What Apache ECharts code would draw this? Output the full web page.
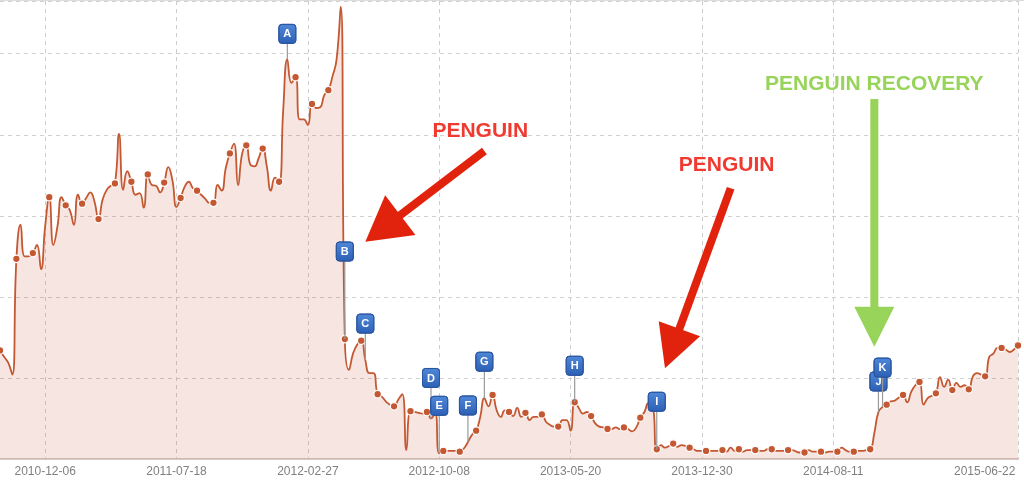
<!DOCTYPE html>
<html>
<head>
<meta charset="utf-8">
<script src="https://cdn.jsdelivr.net/npm/echarts@6/dist/echarts.min.js"></script>
<style>
html,body{margin:0;padding:0;background:#fff;}
#c{width:1024px;height:481px;}
</style>
</head>
<body>
<div id="c"></div>
<script>
// ---------- data ----------
const startDate = '2010-09-20';   // first weekly point
const weekCount = 249;

// weekly visibility values (one per week)
const values = [
  13.4, 12.6, 11.9, 10.4, 24.7, 28.9, 25.0, 25.0, 25.4, 26.4,
  23.4, 28.7, 32.3, 26.4, 28.7, 32.3, 31.3, 30.7, 28.9, 32.6,
  31.5, 32.2, 32.9, 31.8, 29.6, 32.0, 33.2, 33.7, 34.0, 40.1,
  33.2, 35.5, 34.2, 32.6, 32.8, 31.0, 35.1, 33.8, 33.7, 32.9,
  34.1, 36.0, 34.4, 31.1, 32.2, 33.6, 34.2, 33.4, 33.1, 32.6,
  32.1, 31.6, 31.6, 33.8, 33.1, 35.9, 37.7, 38.9, 33.8, 37.7,
  38.7, 36.3, 36.1, 37.1, 38.3, 36.1, 33.1, 34.7, 34.2, 43.1,
  49.3, 46.4, 47.1, 41.9, 41.9, 41.2, 43.8, 43.3, 43.4, 44.9,
  45.5, 47.2, 49.3, 55.8, 14.8, 11.0, 13.0, 14.1, 14.6, 12.2,
  10.6, 10.6, 8.0, 7.7, 7.1, 6.7, 6.5, 7.3, 8.0, 1.1,
  5.9, 5.8, 5.7, 5.6, 5.8, 5.0, 5.7, 0.7, 1.0, 1.0,
  1.0, 1.0, 0.9, 1.3, 2.1, 3.0, 3.5, 5.2, 7.5, 6.5,
  7.9, 6.0, 5.2, 6.0, 5.8, 5.3, 6.3, 5.2, 5.7, 4.8,
  5.2, 5.2, 5.5, 4.6, 4.2, 4.0, 4.0, 4.8, 4.8, 3.5,
  7.0, 6.3, 5.6, 5.8, 5.3, 4.4, 4.0, 3.9, 3.7, 3.7,
  3.9, 3.7, 3.9, 3.7, 3.4, 3.9, 5.1, 5.8, 6.9, 6.7,
  1.2, 1.7, 1.4, 1.6, 1.9, 1.5, 1.7, 1.6, 1.4, 1.2,
  1.0, 1.0, 1.0, 1.0, 1.0, 1.0, 1.1, 0.9, 1.4, 1.0,
  1.2, 0.9, 1.1, 1.1, 1.1, 1.0, 1.0, 1.2, 1.2, 1.0,
  1.0, 1.0, 1.1, 1.1, 0.9, 0.8, 0.8, 1.1, 0.9, 0.9,
  0.9, 0.8, 0.9, 0.9, 0.9, 1.4, 1.1, 0.9, 0.9, 1.0,
  1.0, 1.1, 1.2, 3.2, 5.8, 6.4, 6.7, 7.1, 7.2, 7.6,
  7.9, 7.0, 8.3, 9.1, 9.5, 6.7, 7.5, 7.8, 8.1, 10.1,
  8.9, 9.8, 8.5, 9.4, 8.9, 9.1, 8.6, 10.2, 10.6, 10.4,
  10.2, 12.6, 13.0, 13.7, 13.7, 13.5, 13.2, 13.5, 14.0
];

// x-axis tick labels (weeks shown on the axis)
const tickLabels = ['2010-12-06','2011-07-18','2012-02-27','2012-10-08','2013-05-20','2013-12-30','2014-08-11','2015-06-22'];

// event flags
const flagLetters = ['A','B','C','D','E','F','G','H','I','J','K'];
const flagDates   = ['2012-01-23','2012-04-30','2012-06-04','2012-09-24','2012-10-08','2012-11-26','2012-12-24','2013-05-27','2013-10-14','2014-10-27','2014-11-03'];

// annotation texts
const annotationTexts = ['PENGUIN', 'PENGUIN', 'PENGUIN RECOVERY'];

// ---------- layout / style (not data) ----------
const flagLift = [16, 78, 27, 31, 38, 27, 27, 27, 38, 21, 30];   // stem length in px
// annotation anchors in data space [week index, value]
const annotationAnchors = [[117.0, 40.4], [176.5, 36.3], [213.4, 46.2]];
const annotationColors = ['#f03a30', '#f03a30', '#98d35a'];
const arrowDefs = [
  {from: [117.7, 38.0], to: [89.0, 26.8], color: '#e1220d', head: 44, half: 25},
  {from: [177.6, 33.4], to: [161.6, 11.2], color: '#e1220d', head: 42, half: 22},
  {from: [213.4, 44.4], to: [213.4, 13.85], color: '#98d35a', head: 40, half: 20}
];

// ---------- build categories ----------
const categories = [];
(function(){
  const p = startDate.split('-').map(Number);
  const d0 = Date.UTC(p[0], p[1]-1, p[2]);
  for (let i = 0; i < weekCount; i++) {
    categories.push(new Date(d0 + i*7*86400000).toISOString().slice(0,10));
  }
})();
const labelIdx = tickLabels.map(t => categories.indexOf(t));
const isLabel = i => labelIdx.indexOf(i) >= 0;
const flagWeeks = flagDates.map(d => categories.indexOf(d));

const chart = echarts.init(document.getElementById('c'), null, {renderer: 'canvas'});
const FONT = "'Liberation Sans', Arial, Helvetica, sans-serif";

chart.setOption({
  animation: false,
  grid: {left: -0.5, right: 6, top: 1, bottom: 22, containLabel: false},
  xAxis: [{
    type: 'category',
    data: categories,
    boundaryGap: false,
    axisLine: {show: true, lineStyle: {color: '#d6cac6', width: 2}},
    axisTick: {show: false},
    axisLabel: {
      interval: (i) => isLabel(i),
      color: '#808080', fontSize: 12, fontFamily: FONT, margin: 7,
      formatter: (v, i) => (i === weekCount - 1 ? '{r|' + v + '}' : v),
      rich: {r: {width: 128, align: 'left', color: '#808080', fontSize: 12, fontFamily: FONT}}
    },
    splitLine: {show: true, interval: (i) => isLabel(i), lineStyle: {color: '#cdcdcd', type: [4, 4], width: 1}}
  }],
  yAxis: {
    type: 'value', min: 0, max: 56.5, interval: 10,
    axisLabel: {show: false}, axisLine: {show: false}, axisTick: {show: false},
    splitLine: {show: true, lineStyle: {color: '#d0d0d0', type: [4, 4], width: 1}}
  },
  series: [
    {
      type: 'line',
      data: values,
      smooth: 0.5,
      showSymbol: true,
      showAllSymbol: true,
      symbol: 'circle',
      symbolSize: (v, p) => (p.dataIndex % 4 === 0 ? 7.5 : 0),
      itemStyle: {color: '#c45832', borderColor: '#ffffff', borderWidth: 1.2},
      lineStyle: {color: '#c45832', width: 1.8},
      areaStyle: {color: 'rgba(196, 88, 50, 0.22)'},
      emphasis: {disabled: true},
      z: 3
    },
    {
      type: 'custom',
      z: 6,
      clip: false,
      data: flagWeeks.map((w, k) => [w, values[w], k]),
      renderItem: function (params, api) {
        const p = api.coord([api.value(0), api.value(1)]);
        const k = api.value(2);
        const lift = flagLift[k];
        const w = 17, h = 19;
        const bx = p[0] - w / 2, by = p[1] - lift - h;
        return {
          type: 'group',
          children: [
            {type: 'line', shape: {x1: p[0], y1: p[1], x2: p[0], y2: p[1] - lift},
             style: {stroke: '#9a9a9a', lineWidth: 1.2}},
            {type: 'rect', shape: {x: bx, y: by, width: w, height: h, r: 3},
             style: {
               fill: new echarts.graphic.LinearGradient(0, 0, 0, 1, [
                 {offset: 0, color: '#5088d8'}, {offset: 1, color: '#2c5fb4'}]),
               stroke: '#2a55a0', lineWidth: 1}},
            {type: 'text',
             style: {text: flagLetters[k], x: p[0], y: by + h / 2 + 0.5, fill: '#ffffff',
                     font: 'bold 11px ' + FONT, align: 'center', verticalAlign: 'middle'}}
          ]
        };
      }
    }
  ]
});

// ---------- annotations (positioned through the chart's own scales) ----------
function toPx(pt) { return chart.convertToPixel({gridIndex: 0}, pt); }
const elements = [];
// top frame line
elements.push({type: 'line', z: 50, shape: {x1: 0, y1: 0.5, x2: 1024, y2: 0.5}, style: {stroke: '#dcdcdc', lineWidth: 1}});
arrowDefs.forEach(a => {
  const t = toPx(a.from), h = toPx(a.to);
  const dx = h[0] - t[0], dy = h[1] - t[1];
  const len = Math.sqrt(dx*dx + dy*dy);
  const ux = dx / len, uy = dy / len;
  const nx = -uy, ny = ux;
  const bx = h[0] - ux * a.head, by = h[1] - uy * a.head;
  elements.push({type: 'line', z: 60,
    shape: {x1: t[0], y1: t[1], x2: bx + ux * 4, y2: by + uy * 4},
    style: {stroke: a.color, lineWidth: 8, lineCap: 'butt'}});
  elements.push({type: 'polygon', z: 60,
    shape: {points: [[h[0], h[1]], [bx + nx * a.half, by + ny * a.half], [bx - nx * a.half, by - ny * a.half]]},
    style: {fill: a.color}});
});
annotationTexts.forEach((txt, i) => {
  const p = toPx(annotationAnchors[i]);
  elements.push({type: 'text', z: 60, x: p[0], y: p[1],
    style: {text: txt, fill: annotationColors[i], font: 'bold 21px ' + FONT, align: 'center', verticalAlign: 'middle'}});
});
chart.setOption({graphic: {elements: elements}});
</script>
</body>
</html>
